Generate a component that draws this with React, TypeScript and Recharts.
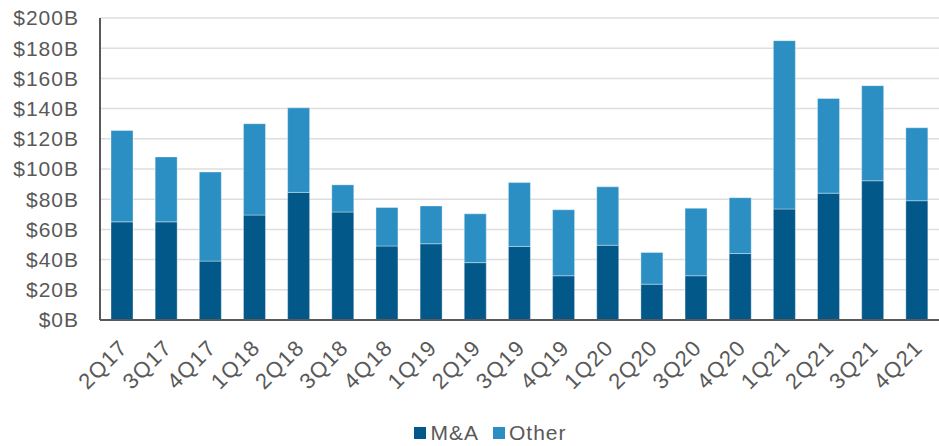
import { BarChart, Bar, XAxis, YAxis, CartesianGrid, Legend } from 'recharts';

// Quarterly volumes in $B, read from the reference picture
const quarters = [
    '2Q17', '3Q17', '4Q17', '1Q18', '2Q18', '3Q18', '4Q18', '1Q19', '2Q19', '3Q19',
    '4Q19', '1Q20', '2Q20', '3Q20', '4Q20', '1Q21', '2Q21', '3Q21', '4Q21',
];
const mna = [65, 65, 39, 69.5, 84.5, 71.5, 49, 50.5, 38, 48.7, 29.3, 49.5, 23.7, 29.3, 44, 73.5, 84, 92.2, 79];
const other = [60.5, 43, 59, 60.5, 56, 18, 25.5, 25, 32.3, 42.3, 43.7, 38.7, 21, 44.7, 37, 111.5, 62.7, 63, 48.3];
const yTicks = [0, 20, 40, 60, 80, 100, 120, 140, 160, 180, 200];

const data = quarters.map((q, i) => ({ quarter: q, mna: mna[i], other: other[i] }));

const FONT = '"Liberation Sans", Arial, sans-serif';
const TEXT = '#595959';
const DARK = '#03588a';
const LIGHT = '#2b8fc4';

const QuarterTick = (props: any) => {
    const { x, y, payload } = props;
    const tx = x + 7;
    const ty = y + 21;
    return (
        <text
            x={tx}
            y={ty}
            transform={`rotate(-45, ${tx}, ${ty})`}
            textAnchor="end"
            fontSize={22}
            letterSpacing={1.2}
            fontFamily={FONT}
            fill={TEXT}
        >
            {payload.value}
        </text>
    );
};

const LegendBox = () => (
    <div style={{ display: 'flex', justifyContent: 'center', paddingLeft: 42, paddingTop: 6, fontFamily: FONT, fontSize: 21, letterSpacing: 1, color: TEXT, lineHeight: '22px' }}>
        <span style={{ display: 'flex', alignItems: 'center', marginRight: 14 }}>
            <span style={{ width: 12, height: 12, background: DARK, marginRight: 4 }} />M&amp;A
        </span>
        <span style={{ display: 'flex', alignItems: 'center' }}>
            <span style={{ width: 12, height: 12, background: LIGHT, marginRight: 4 }} />Other
        </span>
    </div>
);

export default function App() {
    return (
        <div style={{ position: 'absolute', left: 0, top: 0, width: 939, height: 446, background: '#fff' }}>
            <BarChart
                width={939}
                height={446}
                data={data}
                margin={{ top: 18, right: 0, left: 0, bottom: 0 }}
                barSize={22}
            >
                <CartesianGrid vertical={false} stroke="#dedede" strokeWidth={1.5} />
                <XAxis
                    dataKey="quarter"
                    interval={0}
                    tick={<QuarterTick />}
                    tickLine={false}
                    axisLine={{ stroke: '#595959', strokeWidth: 2 }}
                    height={96}
                />
                <YAxis
                    width={100}
                    domain={[0, 200]}
                    ticks={yTicks}
                    tickFormatter={(v) => `$${v}B`}
                    tickLine={false}
                    tickSize={0}
                    tickMargin={21}
                    axisLine={{ stroke: '#595959', strokeWidth: 2 }}
                    tick={{ fontSize: 21, fontFamily: FONT, fill: TEXT, letterSpacing: 1 }}
                />
                <Legend verticalAlign="bottom" height={30} content={<LegendBox />} />
                <Bar dataKey="mna" name="M&A" stackId="a" fill={DARK} stroke="#ffffff" strokeOpacity={0.35} isAnimationActive={false} />
                <Bar dataKey="other" name="Other" stackId="a" fill={LIGHT} stroke="#ffffff" strokeOpacity={0.35} isAnimationActive={false} />
            </BarChart>
        </div>
    );
}
